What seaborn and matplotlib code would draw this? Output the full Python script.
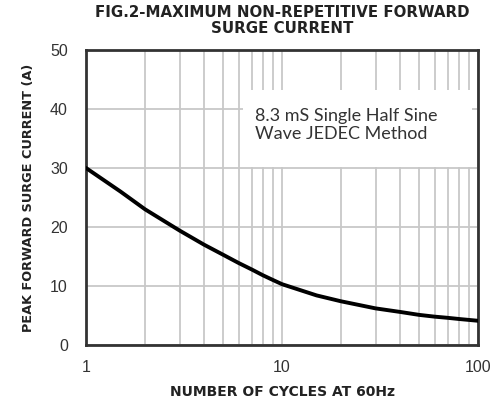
import matplotlib
matplotlib.use("Agg")
import matplotlib.pyplot as plt
import seaborn as sns
import pandas as pd
from matplotlib.patches import Rectangle
from matplotlib.ticker import FixedLocator, NullFormatter

cycles = [1, 1.5, 2, 3, 4, 5, 6, 7, 8, 9, 10, 15, 20, 30, 40, 50, 60, 70, 80, 100]
current = [30, 26.0, 23.0, 19.4, 17.0, 15.3, 13.9, 12.8, 11.8, 11.0, 10.3,
           8.4, 7.4, 6.2, 5.6, 5.1, 4.8, 4.6, 4.4, 4.1]
x_ticks = [1, 10, 100]
x_tick_labels = ["1", "10", "100"]
y_ticks = [0, 10, 20, 30, 40, 50]

sns.set_theme(style="white")
plt.rcParams['font.family'] = ['Liberation Sans', 'DejaVu Sans']

fig = plt.figure(figsize=(4.97, 4.03), dpi=100)
ax = fig.add_axes([0.173, 0.144, 0.789, 0.732])

df = pd.DataFrame({"cycles": cycles, "current": current})
ax.set_xscale("log")
ax.set_xlim(1, 100)
ax.set_ylim(0, 50)

grid_c = "#c8c8c8"
minor = [m * d for d in (1, 10) for m in range(2, 10)]
ax.xaxis.set_major_locator(FixedLocator(x_ticks))
ax.xaxis.set_minor_locator(FixedLocator(minor))
ax.xaxis.set_minor_formatter(NullFormatter())
ax.set_xticks(x_ticks)
ax.set_xticklabels(x_tick_labels)
ax.set_yticks(y_ticks)
ax.grid(True, which="both", axis="x", color=grid_c, lw=1.3)
ax.grid(True, which="major", axis="y", color=grid_c, lw=1.3)
ax.set_axisbelow(True)

# annotation box covering grid
ax.add_patch(Rectangle((6.3, 30.2), 93 - 6.3, 13.0, facecolor="white",
                       edgecolor="none", zorder=1.5))
ax.text(7.3, 37.3, "8.3 mS Single Half Sine\nWave JEDEC Method",
        fontsize=13, family=["Lato", "DejaVu Sans"], color="#333333",
        va="center", ha="left", linespacing=1.2, zorder=3)

sns.lineplot(data=df, x="cycles", y="current", ax=ax, color="black",
             lw=2.8, zorder=4)

for s in ax.spines.values():
    s.set_color("#333333")
    s.set_linewidth(2)

ax.tick_params(axis="both", which="both", length=0, labelsize=11.5,
               colors="#333333")
ax.tick_params(axis="y", pad=13)
ax.tick_params(axis="x", pad=11)
for lab in ax.get_xticklabels() + ax.get_yticklabels():
    lab.set_fontfamily(["Liberation Sans", "DejaVu Sans"])

ax.set_xlabel("NUMBER OF CYCLES AT 60Hz", fontsize=10, fontweight="bold",
              color="#222222", labelpad=7, family=["DejaVu Sans"])
ax.set_ylabel("PEAK FORWARD SURGE CURRENT (A)", fontsize=9.3, fontweight="bold",
              color="#222222", labelpad=11, family=["DejaVu Sans"])
ax.set_title("FIG.2-MAXIMUM NON-REPETITIVE FORWARD\nSURGE CURRENT",
             fontsize=10.8, fontweight="bold", color="#222222", pad=12,
             linespacing=1.15, family=["DejaVu Sans"])

fig.savefig("out.png", dpi=100)
